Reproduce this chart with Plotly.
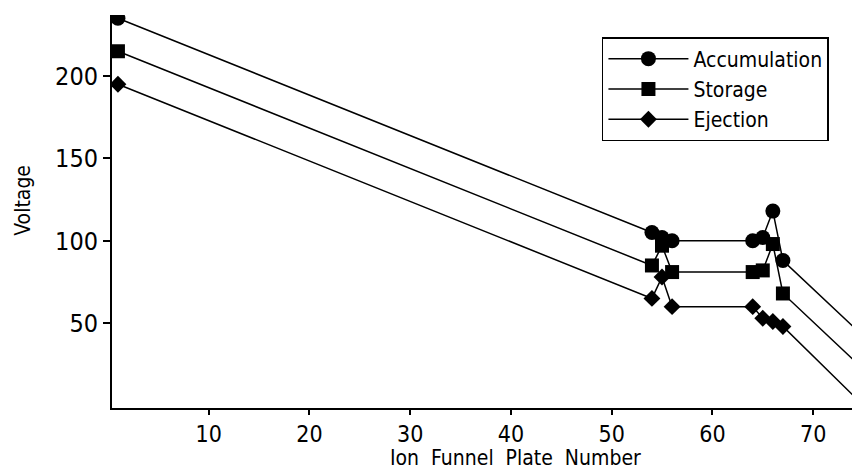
import plotly.graph_objects as go

plate = [1, 54, 55, 56, 64, 65, 66, 67, 75]
accumulation = [235, 105, 102, 100, 100, 102, 118, 88, 42]
storage = [215, 85, 97, 81, 81, 82, 98, 68, 22]
ejection = [195, 65, 78, 60, 60, 53, 51, 48, 0]

x_ticks = [10, 20, 30, 40, 50, 60, 70]
y_ticks = [50, 100, 150, 200]

FONT = "DejaVu Sans Condensed, Liberation Sans Narrow, Arial Narrow, sans-serif"

series = [
    ("Accumulation", accumulation, "circle", 15),
    ("Storage", storage, "square", 14),
    ("Ejection", ejection, "diamond", 13),
]

fig = go.Figure()
for name, vals, sym, size in series:
    fig.add_trace(go.Scatter(
        x=plate, y=vals, name=name, mode="lines+markers",
        line=dict(color="black", width=1.5),
        marker=dict(symbol=sym, size=size, color="black"),
    ))

# page body has an 8px margin, so the figure is sized/offset to compensate
fig.update_layout(
    width=852, height=467,
    margin=dict(l=104, r=0, t=7, b=67),
    paper_bgcolor="white", plot_bgcolor="white",
    font=dict(family=FONT, color="black", size=22),
    showlegend=True,
    legend=dict(
        x=0.655, y=0.944, xanchor="left", yanchor="top",
        bordercolor="black", borderwidth=1.5, bgcolor="white",
        font=dict(family=FONT, size=21, color="black"),
        itemwidth=80,
    ),
    xaxis=dict(
        range=[0.41, 74.65], tickvals=x_ticks, ticks="outside", ticklen=5,
        tickwidth=1.5, tickcolor="black", showline=True, linecolor="black",
        linewidth=1.5, showgrid=False, zeroline=False,
        tickfont=dict(family=FONT, size=23),
    ),
    yaxis=dict(
        range=[-1.5, 237], tickvals=y_ticks, ticks="outside", ticklen=7,
        tickwidth=1.5, tickcolor="black", showline=True, linecolor="black",
        linewidth=2, showgrid=False, zeroline=False,
        tickfont=dict(family=FONT, size=25),
    ),
    annotations=[
        dict(text="Ion  Funnel  Plate  Number", xref="paper", yref="paper",
             x=0.54, y=-0.128, xanchor="center", yanchor="middle",
             showarrow=False, font=dict(family=FONT, size=21)),
        dict(text="Voltage", xref="paper", yref="paper", textangle=-90,
             x=-0.119, y=0.53, xanchor="center", yanchor="middle",
             showarrow=False, font=dict(family=FONT, size=21)),
    ],
)

fig.write_html("out.html")
